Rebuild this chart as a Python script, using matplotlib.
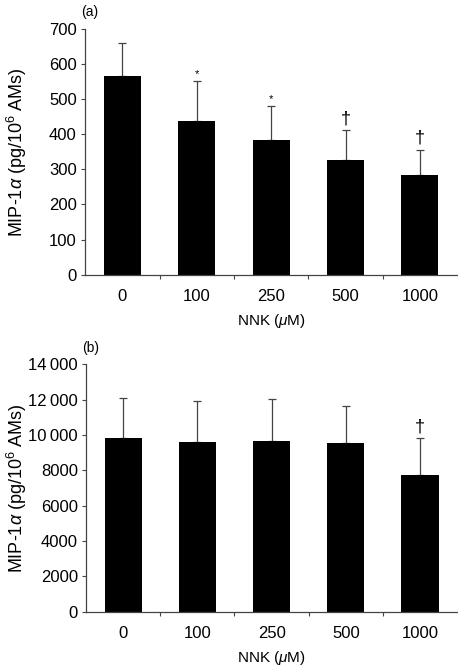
import matplotlib
matplotlib.use('Agg')
import matplotlib.pyplot as plt
import matplotlib.transforms as mtransforms

plt.rcParams['font.family'] = ['Liberation Sans', 'DejaVu Sans']
plt.rcParams['mathtext.fontset'] = 'custom'
plt.rcParams['mathtext.rm'] = 'Liberation Sans'
plt.rcParams['mathtext.it'] = 'Liberation Sans:italic'

# datos
dosis = ['0', '100', '250', '500', '1000']

media_a = [567, 437, 383, 327, 284]
error_a = [93, 115, 98, 84, 71]
marcas_a = ['', '*', '*', '\u2020', '\u2020']
yticks_a = [0, 100, 200, 300, 400, 500, 600, 700]
ylabels_a = ['0', '100', '200', '300', '400', '500', '600', '700']

media_b = [9850, 9620, 9680, 9530, 7720]
error_b = [2260, 2290, 2380, 2130, 2090]
marcas_b = ['', '', '', '', '\u2020']
yticks_b = [0, 2000, 4000, 6000, 8000, 10000, 12000, 14000]
ylabels_b = ['0', '2000', '4000', '6000', '8000',
             '10\u2009000', '12\u2009000', '14\u2009000']

fig = plt.figure(figsize=(4.58, 6.70), dpi=100)
ax_a = fig.add_axes([0.186, 0.590, 0.812, 0.367])
ax_b = fig.add_axes([0.188, 0.087, 0.810, 0.369])

ylabel = 'MIP-1$\\alpha$ (pg/10$^6$ AMs)'
xlabel = 'NNK ($\\mu$M)'


def panel(ax, media, error, marcas, yticks, ylabels, ymax, letra, off_star, off_dag):
    x = range(len(dosis))
    ax.bar(x, media, width=0.5, color='black', zorder=2)
    ax.errorbar(x, media, yerr=[[0] * len(media), error], fmt='none',
                ecolor='#444444', elinewidth=0.9, capsize=3, capthick=0.9, zorder=1)
    for i, m in enumerate(marcas):
        if m == '*':
            ax.text(i, media[i] + error[i] + off_star, m, ha='center', va='bottom', fontsize=8)
        elif m:
            ax.text(i, media[i] + error[i] + off_dag, m, ha='center', va='bottom', fontsize=13)
    ax.set_xlim(-0.5, 4.5)
    ax.set_ylim(0, ymax)
    ax.set_yticks(yticks)
    ax.set_yticklabels(ylabels, fontsize=12)
    ax.set_xticks(list(x))
    ax.set_xticklabels(dosis, fontsize=12)
    ax.tick_params(axis='x', which='major', length=0, pad=10)
    ax.set_xticks([0.5, 1.5, 2.5, 3.5], minor=True)
    ax.tick_params(axis='x', which='minor', length=3, width=0.8, color='#444444')
    ax.tick_params(axis='y', length=3, width=0.8, color='#444444', pad=3)
    for s in ['top', 'right']:
        ax.spines[s].set_visible(False)
    for s in ['left', 'bottom']:
        ax.spines[s].set_linewidth(0.9)
        ax.spines[s].set_color('#444444')
    ax.set_ylabel(ylabel, fontsize=13)
    # x en coordenadas de figura (igual en ambos paneles), y en coordenadas del eje
    trans = mtransforms.blended_transform_factory(fig.transFigure, ax.transAxes)
    ax.yaxis.set_label_coords(0.064, 0.5, transform=trans)
    ax.set_xlabel(xlabel, fontsize=11, labelpad=6)
    ax.text(-0.01, 1.04, letra, transform=ax.transAxes, fontsize=10, ha='left', va='bottom')


panel(ax_a, media_a, error_a, marcas_a, yticks_a, ylabels_a, 700, '(a)', 5, 9)
panel(ax_b, media_b, error_b, marcas_b, yticks_b, ylabels_b, 14000, '(b)', 100, 180)

fig.savefig('out.png', dpi=100)
